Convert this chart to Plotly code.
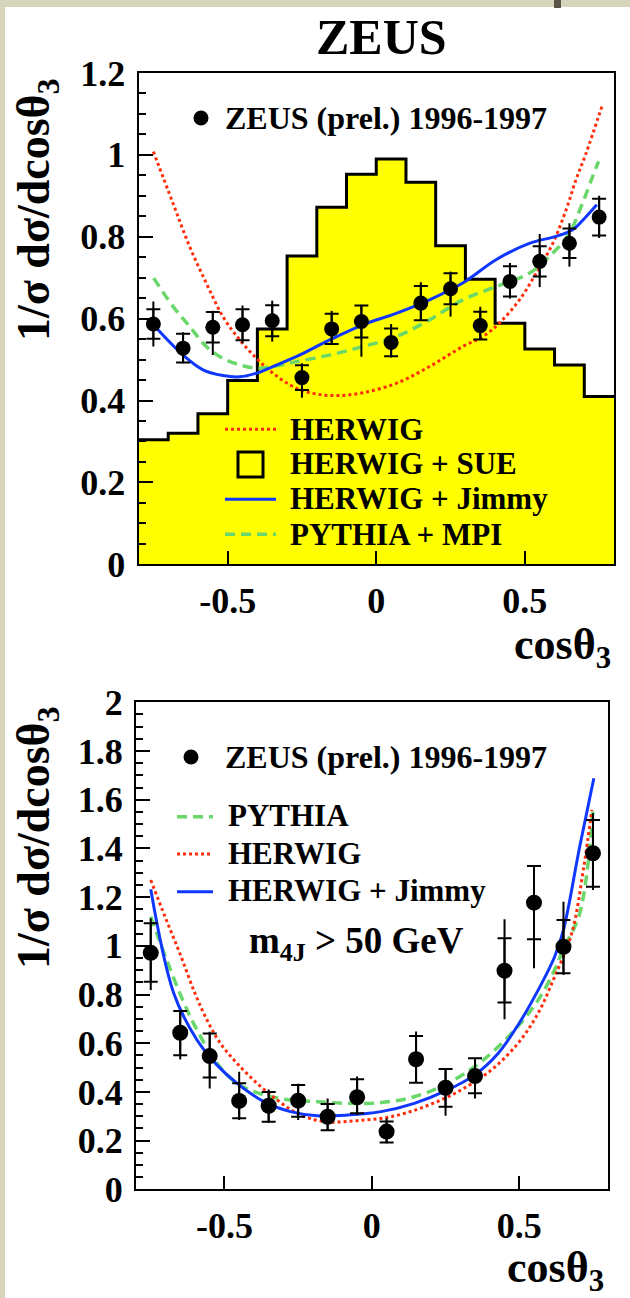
import plotly.graph_objects as go

W, H = 630, 1298


def px(x):
    return x / W


def py(y):
    return 1 - y / H


# ---------------- data: top panel ----------------
cos_centres = [-0.75, -0.65, -0.55, -0.45, -0.35, -0.25, -0.15, -0.05,
               0.05, 0.15, 0.25, 0.35, 0.45, 0.55, 0.65, 0.75]
top_data = [0.587, 0.528, 0.579, 0.585, 0.595, 0.456, 0.575, 0.593,
            0.542, 0.638, 0.673, 0.583, 0.691, 0.740, 0.784, 0.848]
top_stat = [0.036, 0.035, 0.037, 0.038, 0.038, 0.030, 0.037, 0.039,
            0.034, 0.042, 0.038, 0.034, 0.037, 0.037, 0.036, 0.045]
top_tot_up = [0.055, 0.039, 0.040, 0.047, 0.049, 0.035, 0.044, 0.041,
              0.045, 0.051, 0.042, 0.046, 0.045, 0.067, 0.049, 0.052]
top_tot_dn = [0.055, 0.037, 0.068, 0.045, 0.051, 0.049, 0.037, 0.086,
              0.037, 0.043, 0.068, 0.035, 0.042, 0.063, 0.057, 0.051]

sue_edges = [-0.8, -0.7, -0.6, -0.5, -0.4, -0.3, -0.2, -0.1, 0.0,
             0.1, 0.2, 0.3, 0.4, 0.5, 0.6, 0.7, 0.8]
sue_vals = [0.304, 0.320, 0.368, 0.449, 0.575, 0.753, 0.872, 0.953,
            0.990, 0.933, 0.778, 0.696, 0.589, 0.526, 0.487, 0.410]

herwig_top_x = [-0.75, -0.684, -0.628, -0.572, -0.516, -0.459, -0.403, -0.348,
                -0.269, -0.202, -0.134, -0.045, 0.067, 0.179, 0.291, 0.358,
                0.414, 0.482, 0.538, 0.594, 0.639, 0.672, 0.706, 0.761]
herwig_top_y = [1.008, 0.882, 0.776, 0.687, 0.605, 0.548, 0.503, 0.467,
                0.430, 0.416, 0.412, 0.419, 0.442, 0.483, 0.532, 0.556,
                0.589, 0.646, 0.711, 0.784, 0.866, 0.939, 1.004, 1.122]

pythia_mpi_x = [-0.749, -0.684, -0.628, -0.572, -0.516, -0.459, -0.403, -0.348,
                -0.269, -0.157, -0.045, 0.067, 0.179, 0.291, 0.403, 0.515,
                0.594, 0.650, 0.694, 0.728, 0.748]
pythia_mpi_y = [0.699, 0.630, 0.581, 0.532, 0.503, 0.487, 0.479, 0.483,
                0.495, 0.511, 0.532, 0.556, 0.597, 0.646, 0.678, 0.711,
                0.760, 0.809, 0.882, 0.947, 0.984]

jimmy_top_x = [-0.74, -0.65, -0.583, -0.516, -0.459, -0.403, -0.348, -0.269,
               -0.157, -0.045, 0.067, 0.179, 0.291, 0.403, 0.515, 0.605,
               0.661, 0.706, 0.742]
jimmy_top_y = [0.577, 0.511, 0.475, 0.461, 0.458, 0.467, 0.483, 0.507,
               0.548, 0.585, 0.613, 0.646, 0.687, 0.744, 0.784, 0.801,
               0.817, 0.849, 0.878]

# ---------------- data: bottom panel (m4J > 50 GeV) ----------------
bot_data = [0.971, 0.643, 0.547, 0.363, 0.343, 0.364, 0.298, 0.378,
            0.237, 0.534, 0.417, 0.465, 0.898, 1.177, 0.996, 1.380]
bot_stat_up = [0.122, 0.089, 0.093, 0.073, 0.057, 0.064, 0.052, 0.074,
               0.041, 0.096, 0.077, 0.073, 0.133, 0.151, 0.110, 0.137]
bot_stat_dn = [0.119, 0.092, 0.088, 0.071, 0.066, 0.066, 0.055, 0.066,
               0.045, 0.096, 0.078, 0.071, 0.131, 0.150, 0.109, 0.137]
bot_tot_up = [0.142, 0.093, 0.100, 0.120, 0.067, 0.069, 0.075, 0.085,
              0.055, 0.114, 0.079, 0.075, 0.211, 0.155, 0.185, 0.164]
bot_tot_dn = [0.153, 0.110, 0.133, 0.078, 0.070, 0.079, 0.058, 0.073,
              0.048, 0.096, 0.115, 0.092, 0.200, 0.269, 0.116, 0.151]

jimmy_bot_x = [-0.75, -0.672, -0.593, -0.525, -0.457, -0.366, -0.276, -0.185,
               -0.083, 0.031, 0.144, 0.257, 0.348, 0.428, 0.496, 0.564,
               0.620, 0.650, 0.705, 0.753]
jimmy_bot_y = [1.232, 0.805, 0.613, 0.510, 0.435, 0.360, 0.319, 0.302,
               0.305, 0.319, 0.353, 0.408, 0.469, 0.558, 0.675, 0.818,
               0.955, 1.065, 1.407, 1.688]

pythia_bot_x = [-0.75, -0.696, -0.639, -0.593, -0.525, -0.457, -0.366, -0.276,
                -0.185, -0.083, 0.031, 0.144, 0.257, 0.371, 0.484, 0.564,
                0.620, 0.648, 0.705, 0.750]
pythia_bot_y = [1.120, 0.942, 0.770, 0.654, 0.517, 0.435, 0.387, 0.367,
                0.360, 0.353, 0.356, 0.380, 0.435, 0.524, 0.654, 0.777,
                0.901, 0.983, 1.133, 1.551]

herwig_bot_x = [-0.75, -0.70, -0.65, -0.60, -0.557, -0.514, -0.457, -0.389,
                -0.321, -0.253, -0.162, -0.049, 0.065, 0.178, 0.292, 0.405,
                0.496, 0.564, 0.620, 0.678, 0.719, 0.746]
herwig_bot_y = [1.270, 1.115, 0.965, 0.805, 0.690, 0.600, 0.517, 0.435,
                0.367, 0.312, 0.278, 0.282, 0.298, 0.339, 0.401, 0.490,
                0.600, 0.723, 0.873, 1.051, 1.325, 1.558]

x_tick_vals = [-0.5, 0, 0.5]
x_tick_text = ["-0.5", "0", "0.5"]
top_y_ticks = [0, 0.2, 0.4, 0.6, 0.8, 1.0, 1.2]
top_y_text = ["0", "0.2", "0.4", "0.6", "0.8", "1", "1.2"]
bot_y_ticks = [0, 0.2, 0.4, 0.6, 0.8, 1.0, 1.2, 1.4, 1.6, 1.8, 2.0]
bot_y_text = ["0", "0.2", "0.4", "0.6", "0.8", "1", "1.2", "1.4", "1.6", "1.8", "2"]

# ---------------- styles ----------------
RED = "rgb(255,45,10)"
BLUE = "rgb(15,55,255)"
GREEN = "rgb(105,215,105)"
YELLOW = "rgb(255,255,0)"
SERIF = "Liberation Serif"
GDASH = "10px,6px"

fig = go.Figure()

# top panel
fig.add_trace(go.Scatter(
    x=sue_edges, y=sue_vals + [sue_vals[-1]], mode="lines", line_shape="hv",
    fill="tozeroy", fillcolor=YELLOW, line=dict(color="black", width=3),
    xaxis="x", yaxis="y", showlegend=False, hoverinfo="skip"))
fig.add_trace(go.Scatter(
    x=herwig_top_x, y=herwig_top_y, mode="lines", line_shape="spline",
    line=dict(color=RED, width=3, dash="dot"), xaxis="x", yaxis="y", showlegend=False))
fig.add_trace(go.Scatter(
    x=pythia_mpi_x, y=pythia_mpi_y, mode="lines", line_shape="spline",
    line=dict(color=GREEN, width=3.5, dash=GDASH), xaxis="x", yaxis="y", showlegend=False))
fig.add_trace(go.Scatter(
    x=jimmy_top_x, y=jimmy_top_y, mode="lines", line_shape="spline",
    line=dict(color=BLUE, width=3), xaxis="x", yaxis="y", showlegend=False))
fig.add_trace(go.Scatter(
    x=cos_centres, y=top_data, mode="markers", marker=dict(size=1, color="black", opacity=0),
    error_y=dict(type="data", symmetric=False, array=top_tot_up, arrayminus=top_tot_dn,
                 color="black", thickness=2, width=0),
    xaxis="x", yaxis="y", showlegend=False))
fig.add_trace(go.Scatter(
    x=cos_centres, y=top_data, mode="markers", marker=dict(size=15, color="black"),
    error_y=dict(type="data", array=top_stat, color="black", thickness=2, width=7),
    xaxis="x", yaxis="y", showlegend=False))

# bottom panel
fig.add_trace(go.Scatter(
    x=pythia_bot_x, y=pythia_bot_y, mode="lines", line_shape="spline",
    line=dict(color=GREEN, width=3.5, dash=GDASH), xaxis="x2", yaxis="y2", showlegend=False))
fig.add_trace(go.Scatter(
    x=herwig_bot_x, y=herwig_bot_y, mode="lines", line_shape="spline",
    line=dict(color=RED, width=3, dash="dot"), xaxis="x2", yaxis="y2", showlegend=False))
fig.add_trace(go.Scatter(
    x=jimmy_bot_x, y=jimmy_bot_y, mode="lines", line_shape="spline",
    line=dict(color=BLUE, width=3), xaxis="x2", yaxis="y2", showlegend=False))
fig.add_trace(go.Scatter(
    x=cos_centres, y=bot_data, mode="markers", marker=dict(size=1, color="black", opacity=0),
    error_y=dict(type="data", symmetric=False, array=bot_tot_up, arrayminus=bot_tot_dn,
                 color="black", thickness=2, width=0),
    xaxis="x2", yaxis="y2", showlegend=False))
fig.add_trace(go.Scatter(
    x=cos_centres, y=bot_data, mode="markers", marker=dict(size=16, color="black"),
    error_y=dict(type="data", symmetric=False, array=bot_stat_up, arrayminus=bot_stat_dn,
                 color="black", thickness=2, width=7),
    xaxis="x2", yaxis="y2", showlegend=False))

tickfont = dict(family=SERIF, size=36, color="black", weight="bold")


def xaxis_cfg(domain, anchor):
    return dict(domain=domain, anchor=anchor, range=[-0.8, 0.8], showline=True,
                mirror=True, linecolor="black", linewidth=2, ticks="inside",
                ticklen=13, tickwidth=2, tickcolor="black", tickvals=x_tick_vals,
                ticktext=x_tick_text, tickfont=tickfont, showgrid=False,
                zeroline=False, ticklabelstandoff=3, automargin=False)


def yaxis_cfg(domain, anchor, rng, tv, tt):
    return dict(domain=domain, anchor=anchor, range=rng, showline=True,
                mirror=True, linecolor="black", linewidth=2, ticks="inside",
                ticklen=14, tickwidth=2, tickcolor="black", tickvals=tv,
                ticktext=tt, tickfont=tickfont, showgrid=False, zeroline=False,
                ticklabelstandoff=4, automargin=False,
                minor=dict(dtick=0.05, ticks="inside", ticklen=7, tickwidth=2,
                           tickcolor="black", showgrid=False))


fig.update_layout(
    width=W, height=H,
    margin=dict(l=0, r=0, t=0, b=0, pad=0, autoexpand=False),
    paper_bgcolor="white", plot_bgcolor="white", showlegend=False,
    xaxis=xaxis_cfg([px(138.5), px(614)], "y"),
    yaxis=yaxis_cfg([py(564.3), py(73)], "x", [0, 1.2], top_y_ticks, top_y_text),
    xaxis2=xaxis_cfg([px(136), px(607.7)], "y2"),
    yaxis2=yaxis_cfg([py(1189.3), py(702.3)], "x2", [0, 2.0], bot_y_ticks, bot_y_text),
)


def txt(x, y, s, size, xanchor="left", angle=0):
    return dict(x=px(x), y=py(y), xref="paper", yref="paper", text="<b>" + s + "</b>",
                showarrow=False, xanchor=xanchor, yanchor="middle", textangle=angle,
                font=dict(family=SERIF, size=size, color="black"))


annotations = [
    txt(381, 37, "ZEUS", 50, "center"),
    txt(37, 210, "1/σ dσ/dcosθ<sub>3</sub>", 46, "center", -90),
    txt(37, 838, "1/σ dσ/dcosθ<sub>3</sub>", 46, "center", -90),
    txt(613, 647, "cosθ<sub>3</sub>", 44, "right"),
    txt(606, 1270, "cosθ<sub>3</sub>", 44, "right"),
    txt(223, 118, "ZEUS (prel.) 1996-1997", 32),
    txt(288, 429, "HERWIG", 31),
    txt(288, 464, "HERWIG + SUE", 31),
    txt(288, 499, "HERWIG + Jimmy", 31),
    txt(288, 534, "PYTHIA + MPI", 31),
    txt(223, 757, "ZEUS (prel.) 1996-1997", 32),
    txt(226, 815, "PYTHIA", 31),
    txt(226, 853, "HERWIG", 31),
    txt(226, 890, "HERWIG + Jimmy", 31),
    txt(247, 943, "m<sub>4J</sub> > 50 GeV", 37),
]

BEIGE = "rgb(214,212,186)"
shapes = [
    dict(type="rect", xref="paper", yref="paper", x0=0, x1=px(5), y0=0, y1=1,
         fillcolor=BEIGE, line=dict(width=0), layer="below"),
    dict(type="rect", xref="paper", yref="paper", x0=0, x1=1, y0=py(7), y1=1,
         fillcolor=BEIGE, line=dict(width=0), layer="below"),
    dict(type="rect", xref="paper", yref="paper", x0=px(554), x1=px(561), y0=py(8), y1=1,
         fillcolor="rgb(90,85,70)", line=dict(width=0)),
    # legend symbols - top
    dict(type="circle", xref="paper", yref="paper", x0=px(193.5), x1=px(208.5),
         y0=py(125.5), y1=py(110.5), fillcolor="black", line=dict(width=0)),
    dict(type="line", xref="paper", yref="paper", x0=px(225), x1=px(276),
         y0=py(429.3), y1=py(429.3), line=dict(color=RED, width=3, dash="dot")),
    dict(type="rect", xref="paper", yref="paper", x0=px(238), x1=px(263),
         y0=py(477), y1=py(452), line=dict(color="black", width=3)),
    dict(type="line", xref="paper", yref="paper", x0=px(225), x1=px(276),
         y0=py(499.3), y1=py(499.3), line=dict(color=BLUE, width=3)),
    dict(type="line", xref="paper", yref="paper", x0=px(225), x1=px(276),
         y0=py(534.3), y1=py(534.3), line=dict(color=GREEN, width=3.5, dash=GDASH)),
    # legend symbols - bottom
    dict(type="circle", xref="paper", yref="paper", x0=px(183.5), x1=px(198.5),
         y0=py(764.5), y1=py(749.5), fillcolor="black", line=dict(width=0)),
    dict(type="line", xref="paper", yref="paper", x0=px(177), x1=px(213),
         y0=py(816.7), y1=py(816.7), line=dict(color=GREEN, width=3.5, dash=GDASH)),
    dict(type="line", xref="paper", yref="paper", x0=px(177), x1=px(213),
         y0=py(854), y1=py(854), line=dict(color=RED, width=3, dash="dot")),
    dict(type="line", xref="paper", yref="paper", x0=px(177), x1=px(213),
         y0=py(891.7), y1=py(891.7), line=dict(color=BLUE, width=3)),
]

fig.update_layout(annotations=annotations, shapes=shapes)
fig.write_html("out.html")
